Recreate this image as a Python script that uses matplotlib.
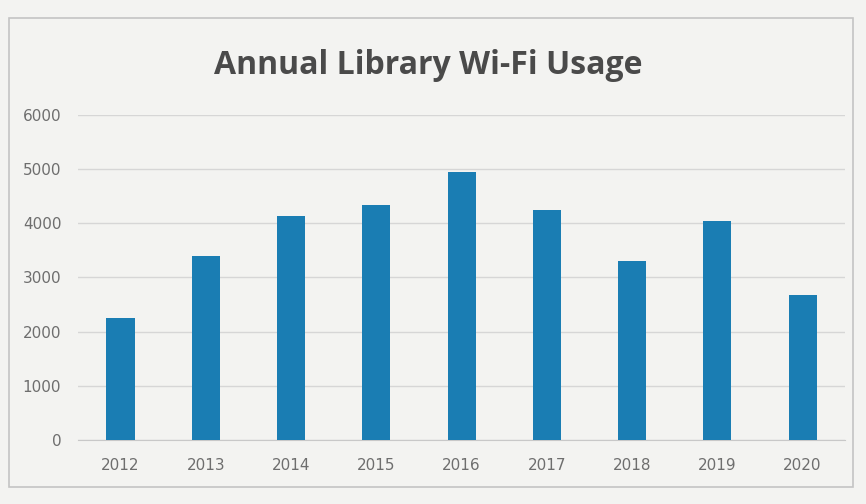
import matplotlib.pyplot as plt
from matplotlib.patches import Rectangle

years = ["2012", "2013", "2014", "2015", "2016", "2017", "2018", "2019", "2020"]
usage = [2250, 3400, 4130, 4330, 4950, 4250, 3300, 4050, 2680]
yticks = [0, 1000, 2000, 3000, 4000, 5000, 6000]

barColor = "#1a7db3"
textColor = "#6e6e6e"

fig = plt.figure(figsize=(8.66, 5.04), dpi=100)
fig.patch.set_facecolor("#f3f3f1")

# light frame around the chart area
fig.patches.append(Rectangle((0.010, 0.034), 0.975, 0.93, transform=fig.transFigure,
                             fill=False, edgecolor="#c4c4c4", linewidth=1.2))

ax = fig.add_axes([0.09, 0.127, 0.886, 0.645])
ax.set_facecolor("#f3f3f1")

x = range(len(years))
ax.bar(x, usage, width=0.33, color=barColor, zorder=3)

ax.set_xlim(-0.5, len(years) - 0.5)
ax.set_ylim(0, 6000)
ax.set_yticks(yticks)
ax.set_xticks(list(x))
ax.set_xticklabels(years)
ax.grid(axis="y", color="#d6d6d6", linewidth=1.0, zorder=0)

for side in ["top", "right", "left"]:
    ax.spines[side].set_visible(False)
ax.spines["bottom"].set_color("#c8c8c8")
ax.tick_params(axis="both", length=0, colors=textColor, labelsize=11)
ax.tick_params(axis="x", pad=13)
ax.tick_params(axis="y", pad=12)

fig.text(0.495, 0.87, "Annual Library Wi-Fi Usage", ha="center", va="center",
         fontsize=23, fontweight="bold", color="#4a4a4a", family="Open Sans")

fig.savefig("out.png", dpi=100, facecolor=fig.get_facecolor())
